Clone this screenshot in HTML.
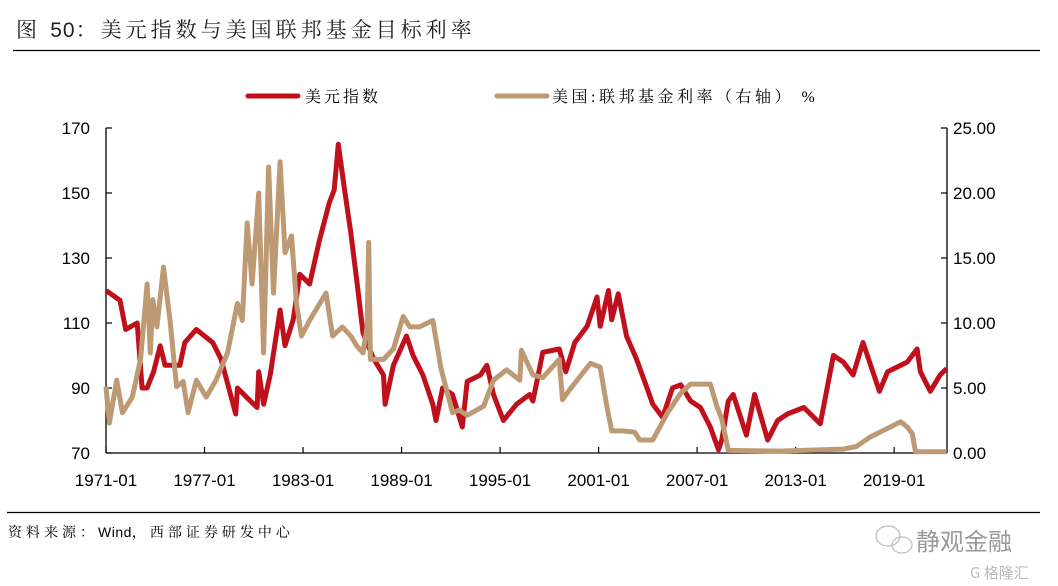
<!DOCTYPE html>
<html><head><meta charset="utf-8"><style>
body{margin:0;background:#fff;}
svg{display:block;font-family:"Liberation Sans","Noto Sans CJK SC",sans-serif;}
.cn{font-family:"Liberation Serif","Noto Serif CJK SC",serif;}
</style></head><body>
<svg id="chart" width="1058" height="586" viewBox="0 0 1058 586">
<text x="16" y="37" font-size="21" fill="#222" class="cn" letter-spacing="4">图 <tspan font-family="Liberation Sans" letter-spacing="1">50</tspan>：美元指数与美国联邦基金目标利率</text>
<line x1="13" y1="50.5" x2="1040" y2="50.5" stroke="#000" stroke-width="1.2"/>
<g>
<g><line x1="248" y1="96" x2="298" y2="96" stroke="#c0101c" stroke-width="5" stroke-linecap="round"/><text x="305" y="102" font-size="16" class="cn" fill="#000" letter-spacing="3">美元指数</text></g>
<g><line x1="497" y1="96" x2="547" y2="96" stroke="#bd9a74" stroke-width="5" stroke-linecap="round"/><text x="552" y="102" font-size="16" class="cn" fill="#000" letter-spacing="3.5">美国:联邦基金利率（右轴） %</text></g>
</g>
<g id="axes"></g>
<g id="series"></g>
<line x1="7" y1="512.5" x2="1040" y2="512.5" stroke="#000" stroke-width="1.2"/>
<text x="8" y="537" font-size="14" class="cn" fill="#000" letter-spacing="4">资料来源：<tspan font-family="Liberation Sans" letter-spacing="0.5">Wind</tspan>，西部证券研发中心</text>
<g>
<ellipse cx="888" cy="536" rx="12" ry="10" fill="none" stroke="#bbb" stroke-width="1.2"/>
<ellipse cx="902" cy="545" rx="10" ry="8" fill="none" stroke="#bbb" stroke-width="1.2"/>
<text x="916" y="550" font-size="24" fill="#999" font-family="Noto Sans CJK SC,sans-serif">静观金融</text>
<text x="970" y="578" font-size="15" fill="#bbb" font-family="Noto Sans CJK SC,sans-serif">G 格隆汇</text>
</g>
</svg>
<script>
const dxyYears=[1971.0,1971.85,1972.2,1972.9,1973.2,1973.5,1973.9,1974.3,1974.6,1975.5,1975.8,1976.5,1977.5,1978.0,1978.4,1978.9,1979.0,1979.6,1980.2,1980.3,1980.6,1981.0,1981.6,1981.9,1982.4,1982.8,1983.4,1984.0,1984.6,1984.9,1985.15,1985.5,1985.9,1986.3,1986.65,1987.3,1987.9,1988.0,1988.5,1989.3,1989.7,1990.3,1990.9,1991.1,1991.5,1992.1,1992.7,1993.0,1993.8,1994.2,1994.6,1995.2,1996.0,1996.8,1997.0,1997.6,1998.6,1999.0,1999.55,2000.3,2000.9,2001.1,2001.6,2001.8,2002.2,2002.7,2003.3,2003.95,2004.3,2004.9,2005.5,2006.0,2006.6,2007.2,2007.8,2008.3,2008.5,2008.9,2009.2,2010.0,2010.5,2011.3,2011.9,2012.5,2013.5,2014.5,2015.3,2015.9,2016.5,2017.1,2018.1,2018.6,2019.8,2020.4,2020.6,2021.2,2021.8,2022.2];
const dxyValues=[120,117,108,110,90,90,95,103,97,97,104,108,104,99,91.5,82,90,87,84,95,85,94,114,103,111,125,122,135.5,147,151,165,152,138,122,107,99,94,85,97,106,100,94,85,80,90,88,78,92,94,97,88,80,85,88,86,101,102,95,104,109,118,109,120,111,119,106,99,90,85,81,90,91,86,84,78,71,74,86,88,75.5,88,74,80,82,84,79,100,98,94,104,89,95,98,102,95,89,94,96];
const ffYears=[1971.0,1971.2,1971.65,1972.0,1972.6,1973.1,1973.5,1973.7,1973.85,1974.1,1974.5,1974.9,1975.3,1975.7,1976.0,1976.5,1977.1,1977.7,1978.4,1979.0,1979.3,1979.6,1979.9,1980.3,1980.6,1980.9,1981.2,1981.6,1981.9,1982.3,1982.6,1982.9,1983.4,1984.4,1984.8,1985.4,1985.9,1986.3,1986.65,1986.9,1987.0,1987.1,1987.9,1988.5,1989.1,1989.5,1990.1,1990.9,1991.4,1992.1,1992.5,1993.0,1994.0,1994.6,1995.4,1996.2,1996.3,1997.0,1997.6,1998.6,1998.8,1999.2,2000.5,2001.1,2001.5,2001.8,2002.5,2003.2,2003.5,2004.3,2005.2,2006.0,2006.6,2007.8,2008.2,2008.5,2008.9,2012.0,2015.9,2016.7,2017.5,2018.6,2019.4,2019.8,2020.1,2020.3,2022.2];
const ffValues=[5.1,2.3,5.6,3.1,4.3,7.2,13,7.7,11.8,9.7,14.3,10.2,5.1,5.5,3.1,5.6,4.3,5.6,7.7,11.5,10.2,17.7,13,20,7.7,22,12.3,22.4,15.4,16.7,11.5,9,10.2,12.3,9,9.7,9,8.2,7.7,9.7,16.2,7.2,7.2,8,10.5,9.7,9.7,10.2,6.5,3.1,3.3,2.9,3.6,5.6,6.4,5.6,7.9,6,5.8,7.2,4.1,4.8,6.9,6.6,3.6,1.7,1.7,1.6,1.0,1.0,3.1,4.6,5.3,5.3,3.6,2.6,0.2,0.15,0.3,0.5,1.2,1.9,2.4,2.0,1.5,0.1,0.1];
const leftTicks=[70,90,110,130,150,170];
const rightTicks=["0.00","5.00","10.00","15.00","20.00","25.00"];
const xTickYears=[1971,1977,1983,1989,1995,2001,2007,2013,2019];
const xTickLabels=["1971-01","1977-01","1983-01","1989-01","1995-01","2001-01","2007-01","2013-01","2019-01"];

const NS="http://www.w3.org/2000/svg";
const L=106,R=947,T=128,B=453;
const xS=y=>L+(y-1971)*16.42;
const yL=v=>B-(v-70)/100*(B-T);
const yR=v=>B-v/25*(B-T);
function mk(tag,attrs,parent){const e=document.createElementNS(NS,tag);for(const k in attrs)e.setAttribute(k,attrs[k]);parent.appendChild(e);return e;}
const ax=document.getElementById('axes'),sr=document.getElementById('series');
const la=mk('line',{x1:L,y1:T,x2:L,y2:B,stroke:'#000','stroke-width':1.3},ax);


const ra=mk('line',{x1:R,y1:T,x2:R,y2:B,stroke:'#000','stroke-width':1.3},ax);


const xa=mk('line',{x1:L,y1:B,x2:R,y2:B,stroke:'#000','stroke-width':1.3},ax);


leftTicks.forEach(v=>{const y=yL(v);
 mk('line',{x1:L,y1:y,x2:L+6,y2:y,stroke:'#000','stroke-width':1.2},ax);
 const t=mk('text',{x:90,y:y+6,'font-size':17,'text-anchor':'end',fill:'#000'},ax);t.textContent=v;
 
 });
rightTicks.forEach(s=>{const y=yR(parseFloat(s));
 mk('line',{x1:R-6,y1:y,x2:R,y2:y,stroke:'#000','stroke-width':1.2},ax);
 const t=mk('text',{x:953,y:y+6,'font-size':17,fill:'#000'},ax);t.textContent=s;
 
 });
xTickYears.forEach((yr,i)=>{const x=xS(yr);
 mk('line',{x1:x,y1:B-6,x2:x,y2:B,stroke:'#000','stroke-width':1.2},ax);
 const t=mk('text',{x:x,y:486,'font-size':17,'text-anchor':'middle',fill:'#000'},ax);t.textContent=xTickLabels[i];
 
 });
function path(xs,vs,ys){return xs.map((x,i)=>(i?'L':'M')+xS(x).toFixed(1)+','+ys(vs[i]).toFixed(1)).join('');}
const p1=mk('path',{d:path(dxyYears,dxyValues,yL),fill:'none',stroke:'#c0101c','stroke-width':5,'stroke-linejoin':'round'},sr);


const p2=mk('path',{d:path(ffYears,ffValues,yR),fill:'none',stroke:'#bd9a74','stroke-width':5,'stroke-linejoin':'round'},sr);


</script>
</body></html>
